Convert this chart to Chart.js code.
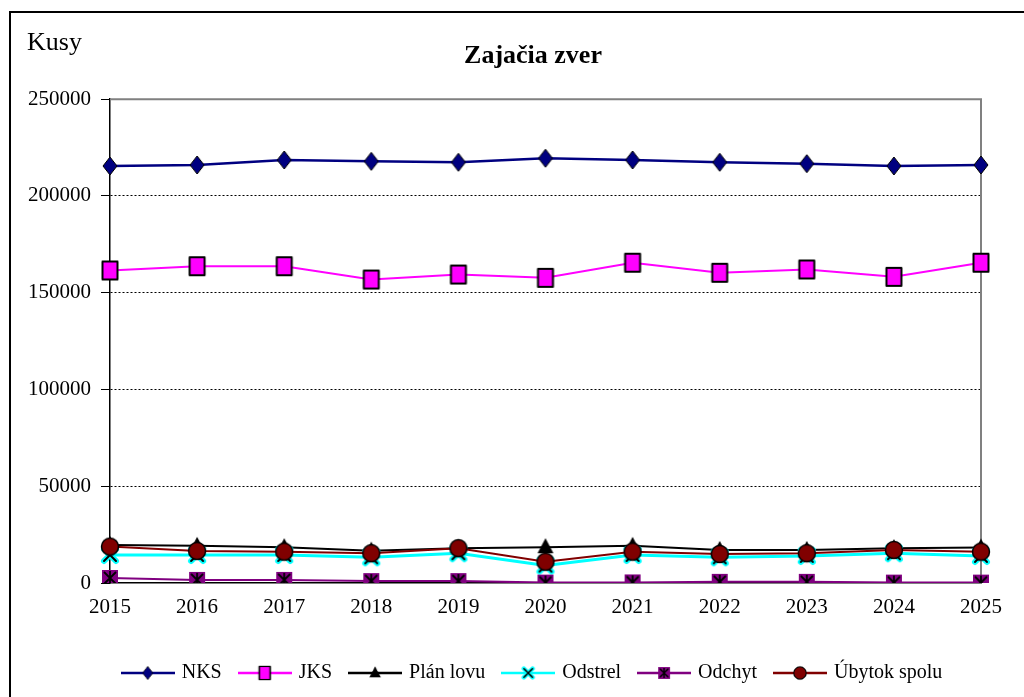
<!DOCTYPE html>
<html lang="sk">
<head>
<meta charset="utf-8">
<title>Zajačia zver</title>
<script src="https://cdn.jsdelivr.net/npm/chart.js@4.4.0/dist/chart.umd.min.js"></script>
<style>
  html, body { margin: 0; padding: 0; background: #fff; overflow: hidden; }
  #obal { position: relative; width: 1024px; height: 697px; }
  #ramik { position: absolute; left: 9px; top: 11px; width: 1100px; height: 800px;
           border: 2px solid #000; pointer-events: none; }
</style>
</head>
<body>
<div id="obal">
  <canvas id="grafZajac" width="1024" height="697"></canvas>
  <div id="ramik"></div>
</div>
<script>
// dáta odčítané z obrázka (kusy)
const roky = ['2015', '2016', '2017', '2018', '2019', '2020', '2021', '2022', '2023', '2024', '2025'];
const nks = [215500, 216000, 218600, 217900, 217400, 219500, 218600, 217400, 216700, 215500, 216000];
const jks = [161500, 163700, 163700, 156800, 159400, 157700, 165500, 160300, 162000, 158200, 165500];
const planLovu = [19700, 19200, 18500, 16700, 18000, 18500, 19200, 17100, 17100, 18000, 18300];
const odstrel = [14500, 14500, 14500, 13300, 15400, 9000, 14500, 13300, 14000, 15400, 14000];
const odchyt = [2600, 1600, 1600, 1000, 1000, 200, 300, 600, 600, 200, 200];
const ubytok = [18800, 16600, 16200, 15400, 18000, 11000, 16200, 15000, 15400, 17100, 16200];
const yTicky = [0, 50000, 100000, 150000, 200000, 250000];

const pismo = 'Liberation Serif, "Times New Roman", serif';

// malé obrázky značiek (ako v Exceli)
function znacka(druh) {
  const c = document.createElement('canvas');
  c.width = 22; c.height = 22;
  const g = c.getContext('2d');
  g.translate(11, 11);
  g.lineJoin = 'round';
  if (druh === 'kosostvorec') {
    g.beginPath();
    g.moveTo(0, -9); g.lineTo(7, 0); g.lineTo(0, 9); g.lineTo(-7, 0); g.closePath();
    g.fillStyle = '#000080'; g.fill();
    g.strokeStyle = '#000'; g.lineWidth = 1; g.stroke();
  } else if (druh === 'stvorec') {
    g.fillStyle = '#ff00ff';
    g.fillRect(-7.5, -9, 15, 18);
    g.strokeStyle = '#000'; g.lineWidth = 2;
    g.strokeRect(-7.5, -9, 15, 18);
  } else if (druh === 'trojuholnik') {
    g.beginPath();
    g.moveTo(0, -9); g.lineTo(8, 6); g.lineTo(-8, 6); g.closePath();
    g.fillStyle = '#000'; g.fill();
  } else if (druh === 'krizik') {
    g.lineCap = 'round';
    g.beginPath();
    g.moveTo(-6, -6); g.lineTo(6, 6); g.moveTo(6, -6); g.lineTo(-6, 6);
    g.strokeStyle = '#00ffff'; g.lineWidth = 6; g.stroke();
    g.strokeStyle = '#000'; g.lineWidth = 2; g.stroke();
  } else if (druh === 'hviezda') {
    g.fillStyle = '#800080';
    g.fillRect(-8, -8, 16, 16);
    g.beginPath();
    g.moveTo(0, -7); g.lineTo(0, 7);
    g.moveTo(-6, -6); g.lineTo(6, 6); g.moveTo(6, -6); g.lineTo(-6, 6);
    g.strokeStyle = '#000'; g.lineWidth = 1.8; g.stroke();
  } else if (druh === 'kruh') {
    g.beginPath();
    g.arc(0, 0, 8.5, 0, Math.PI * 2);
    g.fillStyle = '#800000'; g.fill();
    g.strokeStyle = '#000'; g.lineWidth = 1.5; g.stroke();
  }
  return c;
}

// obrázok do legendy: čiara + zmenšená značka
function legendaObr(farba, druh) {
  const c = document.createElement('canvas');
  c.width = 54; c.height = 20;
  const g = c.getContext('2d');
  g.strokeStyle = farba; g.lineWidth = 2.5;
  g.beginPath(); g.moveTo(0, 10); g.lineTo(54, 10); g.stroke();
  g.drawImage(znacka(druh), 27 - 8, 10 - 8, 16, 16);
  return c;
}

const serie = [
  { label: 'NKS', data: nks, farba: '#000080', druh: 'kosostvorec', hrubka: 2.5 },
  { label: 'JKS', data: jks, farba: '#ff00ff', druh: 'stvorec', hrubka: 2 },
  { label: 'Plán lovu', data: planLovu, farba: '#000000', druh: 'trojuholnik', hrubka: 2 },
  { label: 'Odstrel', data: odstrel, farba: '#00ffff', druh: 'krizik', hrubka: 3 },
  { label: 'Odchyt', data: odchyt, farba: '#800080', druh: 'hviezda', hrubka: 2 },
  { label: 'Úbytok spolu', data: ubytok, farba: '#800000', druh: 'kruh', hrubka: 2 }
];

// posledná séria kreslená navrchu (ako v Exceli)
const datasets = serie.map((s, i) => ({
  label: s.label,
  data: s.data,
  borderColor: s.farba,
  backgroundColor: s.farba,
  borderWidth: s.hrubka,
  pointStyle: znacka(s.druh),
  legendObr: legendaObr(s.farba, s.druh),
  pointRadius: 9,
  tension: 0,
  order: serie.length - i
}));

// "Kusy" vľavo hore a sivý rám plochy grafu
const doplnky = {
  id: 'doplnky',
  beforeDatasetsDraw(chart) {
    const { ctx, chartArea: a } = chart;
    ctx.save();
    ctx.strokeStyle = '#808080';
    ctx.lineWidth = 2;
    ctx.beginPath();
    ctx.moveTo(a.left, a.top); ctx.lineTo(a.right, a.top); ctx.lineTo(a.right, a.bottom);
    ctx.stroke();
    ctx.restore();
  },
  afterDraw(chart) {
    const ctx = chart.ctx;
    ctx.save();
    ctx.font = '26px ' + pismo;
    ctx.fillStyle = '#000';
    ctx.textBaseline = 'middle';
    ctx.fillText('Kusy', 27, 43);
    ctx.restore();
  }
};

const ctx = document.getElementById('grafZajac').getContext('2d');

new Chart(ctx, {
  type: 'line',
  data: { labels: roky, datasets: datasets },
  plugins: [doplnky],
  options: {
    responsive: false,
    animation: false,
    // záporný pravý okraj + prázdna pravá os: nadpis a legenda sú posunuté doprava ako v origináli
    layout: { padding: { left: 0, right: -42, top: 0, bottom: 4 } },
    plugins: {
      tooltip: { enabled: false },
      title: {
        display: true,
        text: 'Zajačia zver',
        color: '#000',
        font: { family: pismo, size: 26, weight: 'bold' },
        padding: { top: 41, bottom: 27 }
      },
      legend: {
        position: 'bottom',
        labels: {
          color: '#000',
          font: { family: pismo, size: 20 },
          usePointStyle: true,
          pointStyleWidth: 48,
          padding: 19,
          sort: (a, b) => a.datasetIndex - b.datasetIndex,
          generateLabels(chart) {
            const zoznam = Chart.defaults.plugins.legend.labels.generateLabels(chart);
            zoznam.forEach(p => { p.pointStyle = chart.data.datasets[p.datasetIndex].legendObr; });
            return zoznam;
          }
        }
      }
    },
    scales: {
      x: {
        offset: false,
        afterFit: s => { s.height = 61; },
        grid: { display: false, drawTicks: false },
        border: { color: '#000', width: 1.5 },
        ticks: { color: '#000', font: { family: pismo, size: 21 }, padding: 12, maxRotation: 0, autoSkip: false }
      },
      y: {
        min: 0,
        max: 250000,
        afterBuildTicks: s => { s.ticks = yTicky.map(v => ({ value: v })); },
        afterFit: s => { s.width = 110; },
        ticks: { color: '#000', font: { family: pismo, size: 21 }, padding: 10, callback: v => String(v) },
        grid: {
          color: c => (c.tick && c.tick.value > 0 && c.tick.value < 250000) ? '#000' : 'rgba(0,0,0,0)',
          lineWidth: 1,
          tickLength: 9,
          tickColor: '#000'
        },
        border: { color: '#000', width: 1.5, dash: [2, 2] }
      },
      prazdna: {
        position: 'right',
        afterFit: s => { s.width = 85; },
        ticks: { display: false },
        grid: { display: false },
        border: { display: false }
      }
    }
  }
});
</script>
</body>
</html>
